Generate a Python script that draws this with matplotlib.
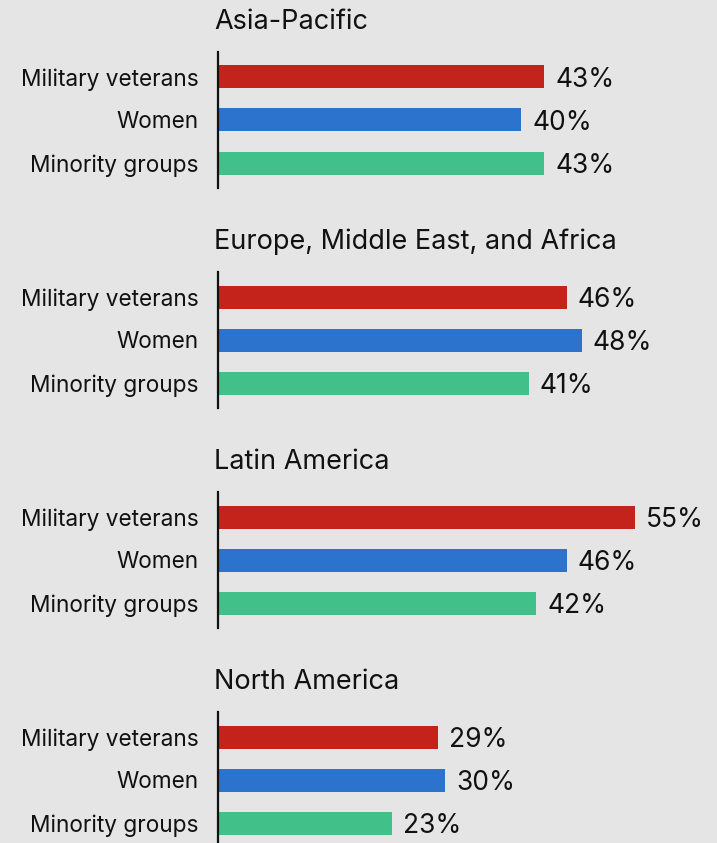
import matplotlib
matplotlib.use("Agg")
import matplotlib.pyplot as plt

plt.rcParams['font.family'] = ['Inter', 'DejaVu Sans']

regions = ["Asia-Pacific", "Europe, Middle East, and Africa", "Latin America", "North America"]
groups = ["Military veterans", "Women", "Minority groups"]
veterans = [43, 46, 55, 29]
women = [40, 48, 46, 30]
minority = [43, 41, 42, 23]
colors = ["#c4231c", "#2b73cc", "#41c189"]
bg = "#e5e5e5"

W, H = 717, 843
fig = plt.figure(figsize=(W / 100, H / 100), dpi=100, facecolor=bg)

ax_left = 218
px_per_pct = 417 / 55.0
xmax = (W - ax_left) / px_per_pct
series = [veterans, women, minority]
PT = 72 / 100.0  # points per pixel

for i, region in enumerate(regions):
    top = 52 + 220 * i
    h = 136
    ax = fig.add_axes([ax_left / W, (H - top - h) / H, (W - ax_left) / W, h / H])
    ax.set_facecolor(bg)
    vals = [s[i] for s in series]
    ypos = [0, 1, 2]
    ax.barh(ypos, vals, height=23 / 43, color=colors)
    ax.set_xlim(0, xmax)
    ax.set_ylim(2 + 25 / 43, -25 / 43)
    ax.set_yticks(ypos)
    ax.set_yticklabels(groups, fontsize=16.3, color="#111111")
    ax.tick_params(axis='y', length=0, pad=19 * PT)
    ax.set_xticks([])
    for sp in ['top', 'right', 'bottom']:
        ax.spines[sp].set_visible(False)
    ax.spines['left'].set_linewidth(1.6)
    ax.spines['left'].set_color("#111111")
    for y, v in zip(ypos, vals):
        ax.annotate(f"{v}%", xy=(v, y), xytext=(11 * PT, -10 * PT),
                    textcoords='offset points', va='baseline', ha='left',
                    fontsize=19, color="#111111")
    fig.text(214 / W, (H - (29 + 220 * i)) / H, region, fontsize=19.5,
             color="#111111", va='baseline', ha='left')

fig.savefig("out.png", dpi=100, facecolor=bg)
